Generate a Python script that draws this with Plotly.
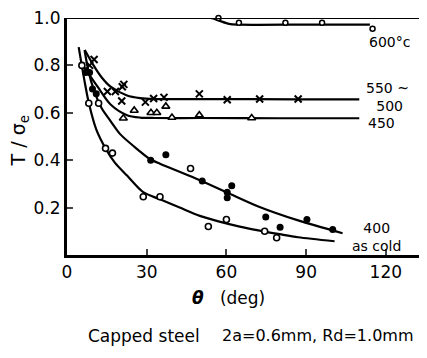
import plotly.graph_objects as go

# ---- data ----
# measured points
ascold_x = [5.6, 8.2, 11.9, 14.5, 17.1, 28.7, 35.0, 46.5, 53.2, 60.0, 74.4, 78.9]
ascold_y = [0.80, 0.64, 0.64, 0.45, 0.43, 0.246, 0.246, 0.365, 0.12, 0.15, 0.10, 0.073]
t400_x = [7.0, 8.5, 9.6, 11.0, 31.5, 37.2, 50.9, 60.3, 60.3, 62.0, 74.8, 80.2, 90.3, 100.0]
t400_y = [0.77, 0.77, 0.70, 0.68, 0.40, 0.423, 0.312, 0.265, 0.242, 0.292, 0.16, 0.117, 0.15, 0.108]
t450_x = [21.2, 25.3, 31.6, 33.8, 37.2, 39.5, 49.8, 69.5]
t450_y = [0.577, 0.61, 0.60, 0.60, 0.627, 0.58, 0.59, 0.578]
t550_x = [8.5, 10.2, 15.2, 18.2, 20.8, 21.4, 20.6, 29.5, 32.6, 36.5, 49.8, 60.3, 72.5, 87.0]
t550_y = [0.80, 0.825, 0.69, 0.69, 0.71, 0.72, 0.65, 0.645, 0.66, 0.665, 0.68, 0.655, 0.658, 0.658]
t600_x = [57.0, 64.7, 82.2, 96.0, 115.0]
t600_y = [1.0, 0.98, 0.98, 0.98, 0.955]

# fitted curves
c_ascold_x = [4.4, 6.5, 8.2, 11.0, 14.5, 18.0, 22.6, 28.7, 35.0, 42.4, 50.0, 57.0, 65.0, 72.0, 80.0, 87.0, 100.7]
c_ascold_y = [0.877, 0.74, 0.642, 0.53, 0.45, 0.39, 0.335, 0.265, 0.235, 0.2, 0.165, 0.142, 0.12, 0.104, 0.088, 0.075, 0.058]
c_400_x = [6.6, 8.0, 10.0, 13.0, 16.4, 20.0, 25.0, 31.2, 35.0, 47.0, 60.0, 72.0, 87.0, 103.7]
c_400_y = [0.865, 0.78, 0.70, 0.62, 0.565, 0.51, 0.46, 0.405, 0.385, 0.33, 0.265, 0.205, 0.146, 0.092]
c_450_x = [6.0, 11.5, 16.4, 22.6, 27.5, 33.0, 50.0, 80.0, 110.0]
c_450_y = [0.80, 0.71, 0.635, 0.59, 0.58, 0.578, 0.578, 0.577, 0.577]
c_550_x = [6.7, 10.0, 13.0, 16.4, 22.6, 27.5, 33.0, 50.0, 87.0, 110.0]
c_550_y = [0.865, 0.80, 0.75, 0.71, 0.673, 0.662, 0.658, 0.658, 0.657, 0.657]
c_600_x = [0.0, 54.0, 57.0, 61.0, 65.0, 90.0, 114.0]
c_600_y = [1.0, 1.0, 0.99, 0.975, 0.972, 0.972, 0.972]

x_ticks = [0, 30, 60, 90, 120]
y_ticks = [0.2, 0.4, 0.6, 0.8, 1.0]
y_tick_text = ["0.2", "0.4", "0.6", "0.8", "1.0"]

labels = [("600°c", 121.5, 0.90), ("550 ~<br> 500", 120.5, 0.665),
          ("450", 118.5, 0.555), ("400<br>as cold", 116.5, 0.078)]

FONT = "DejaVu Sans"
fig = go.Figure()

for cx, cy in [(c_ascold_x, c_ascold_y), (c_400_x, c_400_y), (c_450_x, c_450_y),
               (c_550_x, c_550_y), (c_600_x, c_600_y)]:
    fig.add_trace(go.Scatter(x=cx, y=cy, mode="lines", line=dict(color="black", width=2.2, shape="spline", smoothing=0.8),
                             hoverinfo="skip", cliponaxis=False))

fig.add_trace(go.Scatter(x=ascold_x, y=ascold_y, mode="markers",
                         marker=dict(symbol="circle", size=6, color="white", line=dict(color="black", width=1.6)), cliponaxis=False))
fig.add_trace(go.Scatter(x=t400_x, y=t400_y, mode="markers",
                         marker=dict(symbol="circle", size=7, color="black"), cliponaxis=False))
fig.add_trace(go.Scatter(x=t450_x, y=t450_y, mode="markers",
                         marker=dict(symbol="triangle-up", size=7, color="white", line=dict(color="black", width=1.6)), cliponaxis=False))
fig.add_trace(go.Scatter(x=t550_x, y=t550_y, mode="markers",
                         marker=dict(symbol="x-thin", size=7, color="black", line=dict(color="black", width=2)), cliponaxis=False))
fig.add_trace(go.Scatter(x=t600_x, y=t600_y, mode="markers",
                         marker=dict(symbol="circle", size=5, color="white", line=dict(color="black", width=1.5)), cliponaxis=False))

for txt, lx, ly in labels:
    fig.add_annotation(x=lx, y=ly, text=txt, showarrow=False, xref="x", yref="y",
                       xanchor="center", yanchor="middle",
                       font=dict(family=FONT, size=14, color="black"))

# top frame line
fig.add_shape(type="line", xref="paper", yref="y", x0=0, x1=1, y0=1.0, y1=1.0,
              line=dict(color="black", width=2))

fig.add_annotation(xref="paper", yref="paper", x=-0.13, y=0.48, xanchor="center", yanchor="middle",
                   text="T / σ<sub>e</sub>", textangle=-90,
                   showarrow=False, font=dict(family=FONT, size=19, color="black"))
fig.add_annotation(xref="paper", yref="paper", x=0.44, y=-0.18, xanchor="center", yanchor="middle",
                   text="<i><b>θ</b></i>   (deg)", showarrow=False, font=dict(family=FONT, size=17, color="black"))
fig.add_annotation(xref="paper", yref="paper", x=0.21, y=-0.34, xanchor="center", yanchor="middle",
                   text="Capped steel", showarrow=False,
                   font=dict(family=FONT, size=17, color="black"))
fig.add_annotation(xref="paper", yref="paper", x=0.68, y=-0.34, xanchor="center", yanchor="middle",
                   text="2a=0.6mm, Rd=1.0mm", showarrow=False,
                   font=dict(family=FONT, size=16, color="black"))

fig.update_layout(
    width=427, height=358, margin=dict(l=59, r=0, t=8, b=111),
    paper_bgcolor="white", plot_bgcolor="white", showlegend=False,
    xaxis=dict(range=[0, 138.5], tickvals=x_ticks, ticks="inside", ticklen=6, tickwidth=2,
               showline=True, linewidth=3, linecolor="black", showgrid=False, zeroline=False,
               ticklabeloverflow="allow",
               tickfont=dict(family=FONT, size=17, color="black")),
    yaxis=dict(range=[0, 1.0], tickvals=y_ticks, ticktext=y_tick_text, ticks="inside", ticklen=6, tickwidth=2,
               showline=True, linewidth=3, linecolor="black", showgrid=False, zeroline=False,
               ticklabeloverflow="allow",
               tickfont=dict(family=FONT, size=17, color="black")),
)

fig.write_html("out.html")
